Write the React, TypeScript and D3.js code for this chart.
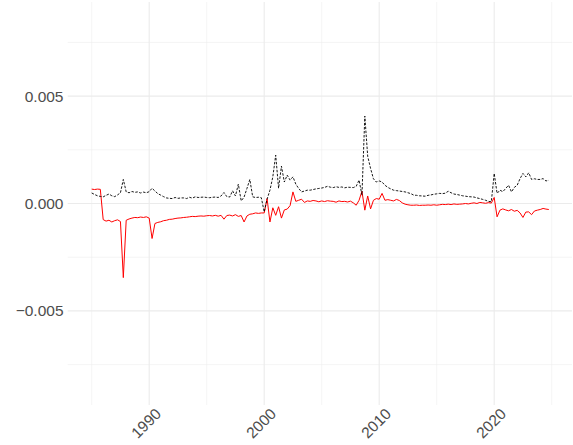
import React from "react";
import * as d3 from "d3";

// quarterly observations, 1985 Q1 .. 2024 Q4, values in units of 1e-4
const startYear = 1985;

const blackE4 = [
  4.9, 4.2, 3.6, 3.3, 3.1, 3.8, 4.4, 3.6, 3.2, 4.0, 5.0, 11.2, 5.4, 5.0, 5.6, 5.2,
  5.4, 4.9, 5.3, 5.0, 5.5, 7.1, 5.8, 4.6, 3.9, 3.2, 2.6, 2.4, 2.3, 2.8, 2.4, 2.6,
  2.6, 2.3, 2.9, 2.5, 3.1, 2.8, 2.9, 3.0, 2.8, 2.7, 2.9, 3.0, 2.8, 3.5, 5.1, 3.2,
  3.0, 5.9, 3.5, 9.0, 1.2, 3.0, 7.0, 11.2, 3.1, 2.8, 2.9, 2.7, -3.9, 2.0, 6.2, 12.4,
  22.5, 7.1, 17.4, 10.0, 13.2, 10.9, 12.4, 9.0, 7.0, 5.4, 5.8, 6.2, 6.2, 6.5, 6.8, 7.0,
  7.2, 7.5, 8.0, 7.6, 7.4, 7.8, 7.5, 7.7, 7.3, 7.6, 7.5, 7.4, 8.0, 10.9, 3.9, 40.7,
  22.0, 16.3, 11.5, 10.0, 10.5, 10.0, 8.5, 7.5, 6.8, 6.2, 6.0, 5.8, 5.6, 5.4, 5.0, 4.6,
  3.9, 3.8, 3.6, 3.5, 3.4, 3.8, 4.0, 4.3, 4.5, 4.7, 4.6, 4.8, 5.7, 5.0, 4.4, 4.2,
  3.9, 3.6, 3.4, 3.2, 3.1, 3.0, 2.6, 2.3, 1.9, 1.5, 1.0, 0.8, 14.0, 4.7, 6.2, 5.5,
  7.0, 8.5, 5.4, 7.5, 8.5, 11.6, 14.0, 12.4, 14.3, 11.2, 11.5, 11.2, 11.2, 11.6, 10.5, 10.8,
];

const redE4 = [
  6.7, 6.5, 6.7, 6.6, -7.5, -8.2, -7.8, -8.6, -8.0, -7.6, -8.4, -34.5, -7.8, -7.2, -6.8, -6.5,
  -6.6, -6.3, -6.5, -6.2, -6.8, -16.3, -9.3, -8.8, -8.5, -8.0, -7.8, -7.4, -7.3, -7.0, -6.8, -6.7,
  -6.5, -6.4, -6.2, -6.0, -6.1, -5.9, -5.8, -5.9, -5.7, -5.6, -5.8, -5.5, -5.9, -5.5, -7.3, -5.6,
  -5.4, -5.8, -5.2, -6.0, -5.6, -8.6, -5.8, -5.0, -4.8, -4.4, -4.6, -4.4, -4.4, 2.3, -8.6, -2.0,
  -5.5, -1.5, -6.8, -3.0, -2.6, -1.0, 5.4, 1.0, 1.5, 2.0, 0.5, 1.2, 1.0, 1.4, 1.2, 0.8,
  1.2, 0.9, 1.3, 1.1, 1.0, 0.6, 1.2, 0.9, 1.0, 0.7, 1.1, 0.3, -0.8, 1.5, 5.7, -3.1,
  3.5, -2.5, 1.5, 2.3, 2.0, 4.7, 1.5, 1.8, 1.5, 1.2, 1.9, 1.4, 0.3, -0.3, -0.6, -0.8,
  -0.8, -0.7, -0.9, -0.8, -0.8, -0.7, -0.8, -0.6, -0.8, -0.6, -0.4, -0.5, -0.3, -0.5, -0.2, -0.4,
  -0.3, -0.2, 0.0, -0.2, 0.1, 0.3, 0.0, 0.5, 0.3, 0.1, 0.4, 0.2, 2.8, -6.2, -3.1, -2.5,
  -3.0, -3.4, -2.8, -3.6, -3.2, -4.4, -6.5, -4.0, -3.9, -5.2, -3.5, -3.1, -2.8, -2.3, -2.6, -2.8,
];

const xMajor = [1990, 2000, 2010, 2020];
const xMinor = [1985, 1995, 2005, 2015, 2025];
const yMajor = [-0.005, 0, 0.005];
const yMajorLabels = ["\u22120.005", "0.000", "0.005"];
const yMinor = [-0.0075, -0.0025, 0.0025, 0.0075];

const W = 573;
const H = 445;
const panel = { left: 67.7, right: 572, top: 2, bottom: 405 };

export default function App() {
  const x = d3
    .scaleLinear()
    .domain([1982.913, 2026.765])
    .range([panel.left, panel.right]);
  const y = d3
    .scaleLinear()
    .domain([-0.00938, 0.00938])
    .range([panel.bottom, panel.top]);

  const toPoints = (vals: number[]) =>
    vals.map((v, i) => [startYear + i / 4, v * 1e-4] as [number, number]);

  const line = d3
    .line<[number, number]>()
    .x((d) => x(d[0]))
    .y((d) => y(d[1]));

  const grid = "#EBEBEB";
  const font = "'Liberation Sans', Arial, sans-serif";

  return (
    <div style={{ position: "fixed", left: 0, top: 0 }}>
      <svg width={W} height={H} style={{ display: "block", background: "#fff" }}>
        {yMinor.map((v) => (
          <line key={"ym" + v} x1={panel.left} x2={panel.right} y1={y(v)} y2={y(v)} stroke={grid} strokeWidth={0.55} />
        ))}
        {xMinor.map((v) => (
          <line key={"xm" + v} x1={x(v)} x2={x(v)} y1={panel.top} y2={panel.bottom} stroke={grid} strokeWidth={0.55} />
        ))}
        {yMajor.map((v) => (
          <line key={"yM" + v} x1={panel.left} x2={panel.right} y1={y(v)} y2={y(v)} stroke={grid} strokeWidth={1.07} />
        ))}
        {xMajor.map((v) => (
          <line key={"xM" + v} x1={x(v)} x2={x(v)} y1={panel.top} y2={panel.bottom} stroke={grid} strokeWidth={1.07} />
        ))}

        <path d={line(toPoints(redE4)) || ""} fill="none" stroke="#FF0000" strokeWidth={1} strokeLinejoin="round" />
        <path
          d={line(toPoints(blackE4)) || ""}
          fill="none"
          stroke="#000"
          strokeWidth={0.9}
          strokeDasharray="2.5,1.5"
          strokeLinejoin="round"
        />

        {yMajor.map((v, i) => (
          <text
            key={"yl" + v}
            x={63.5}
            y={y(v)}
            dy="0.35em"
            textAnchor="end"
            fontFamily={font}
            fontSize={15.5}
            fill="#4D4D4D"
          >
            {yMajorLabels[i]}
          </text>
        ))}
        {xMajor.map((v) => (
          <text
            key={"xl" + v}
            transform={`translate(${x(v) + 5},${407}) rotate(-45)`}
            dy="0.72em"
            textAnchor="end"
            fontFamily={font}
            fontSize={15.5}
            fill="#4D4D4D"
          >
            {v}
          </text>
        ))}
      </svg>
    </div>
  );
}
